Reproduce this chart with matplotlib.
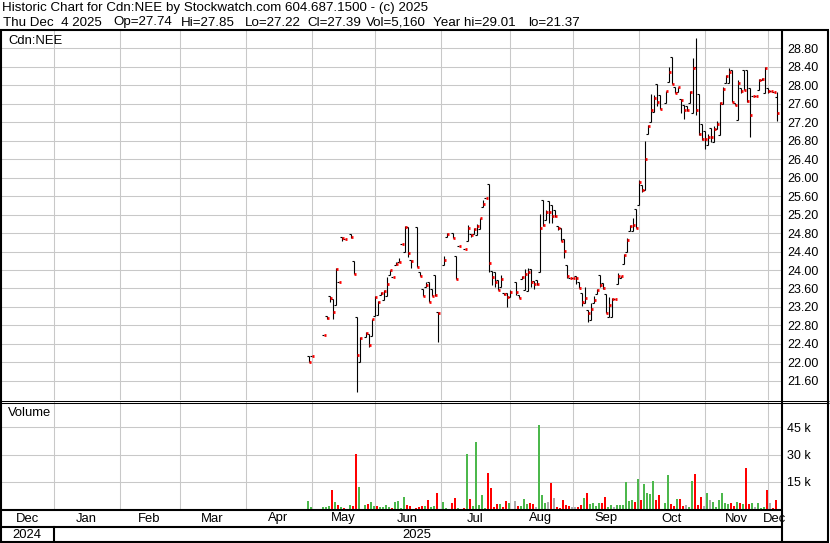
import numpy as np
import matplotlib
matplotlib.use('Agg')
from matplotlib import pyplot as plt
from matplotlib.transforms import blended_transform_factory

plt.rcParams['font.family'] = ['Liberation Sans', 'DejaVu Sans']

# daily bars for Cdn:NEE (2025)
days = ['04-30', '05-01', '05-07', '05-08', '05-09', '05-12', '05-13', '05-14', '05-15',
        '05-16', '05-20', '05-21', '05-22', '05-23', '05-27', '05-28', '05-29', '05-30',
        '06-02', '06-03', '06-04', '06-05', '06-06', '06-09', '06-10', '06-11', '06-12',
        '06-13', '06-16', '06-17', '06-19', '06-20', '06-23', '06-24', '06-25', '06-26',
        '06-27', '06-30',
        '07-02', '07-03', '07-07', '07-08', '07-09', '07-11', '07-14', '07-15', '07-16',
        '07-17', '07-18', '07-21', '07-22', '07-23', '07-24', '07-25', '07-28', '07-29',
        '07-30', '07-31',
        '08-01', '08-05', '08-06', '08-07', '08-08', '08-11', '08-12', '08-13', '08-14',
        '08-15', '08-18', '08-19', '08-20', '08-21', '08-22', '08-25', '08-26', '08-27',
        '08-28', '08-29',
        '09-01', '09-02', '09-03', '09-04', '09-05', '09-08', '09-09', '09-10', '09-11',
        '09-12', '09-15', '09-16', '09-17', '09-18', '09-19', '09-22', '09-23', '09-24',
        '09-25', '09-26', '09-29', '09-30',
        '10-01', '10-02', '10-03', '10-06', '10-07', '10-08', '10-09', '10-10', '10-14',
        '10-15', '10-16', '10-17', '10-20', '10-21', '10-22', '10-23', '10-24', '10-27',
        '10-28', '10-29', '10-30', '10-31',
        '11-03', '11-04', '11-05', '11-06', '11-07', '11-10', '11-11', '11-12', '11-13',
        '11-14', '11-17', '11-18', '11-19', '11-20', '11-21', '11-24', '11-25', '11-26',
        '11-27', '11-28',
        '12-01', '12-02', '12-03', '12-04']

opens = [22.14, 22.13, 22.60, 23.00, 23.44, 23.37, 23.24, 23.73, 24.71, 24.66, 24.77, 24.19,
         22.98, 22.00, 22.56, 22.62, 22.58, 23.01,
         23.03, 23.46, 23.35, 23.44, 23.89, 23.85, 24.11, 24.17, 24.56, 24.38, 24.92, 24.22,
         24.94, 23.96, 23.59, 23.64, 23.73, 23.59, 23.89, 23.09,
         24.11, 24.72, 24.80, 24.30, 24.51, 24.46, 24.63, 24.77, 24.77, 24.76, 24.89, 25.36,
         25.56, 25.86, 23.98, 23.96, 23.78, 23.64, 23.51, 23.50,
         23.42, 23.75, 23.46, 23.81, 23.57, 23.55, 24.02, 23.76, 23.78, 23.96, 25.51, 25.08,
         25.50, 25.41, 25.30, 24.95, 24.90, 24.66, 24.11, 23.83,
         23.83, 23.87, 23.75, 23.51, 23.28, 23.14, 22.92, 23.28, 23.48, 23.89, 23.71, 23.48,
         22.99, 22.99, 23.37, 23.70, 23.82, 24.14, 24.40, 24.85, 24.85, 25.32,
         25.40, 25.83, 25.73, 26.94, 27.21, 27.41, 28.02, 27.78, 27.61, 28.06, 28.61, 27.96,
         27.84, 27.69, 27.57, 27.55, 27.61, 27.39, 28.40, 27.80, 27.15, 27.01,
         26.70, 27.06, 26.76, 27.05, 26.92, 27.60, 28.04, 28.04, 28.32, 27.62, 27.24, 27.93,
         28.32, 28.32, 27.93, 27.76, 27.76, 27.89, 28.11, 27.82,
         27.93, 27.88, 27.85, 27.74]

highs = [22.14, 22.13, 22.60, 23.00, 23.44, 23.37, 24.04, 23.73, 24.71, 24.66, 24.77, 24.19,
         22.98, 22.55, 22.66, 22.62, 22.95, 23.44,
         23.33, 23.53, 23.57, 23.84, 24.00, 23.85, 24.17, 24.27, 24.56, 24.95, 24.92, 24.22,
         24.94, 23.96, 23.59, 23.74, 23.73, 23.59, 23.89, 23.09,
         24.30, 24.80, 24.80, 24.30, 24.51, 24.46, 24.97, 24.77, 24.90, 24.99, 25.13, 25.51,
         25.56, 25.86, 23.98, 23.96, 23.78, 23.89, 23.51, 23.50,
         23.57, 23.75, 23.46, 23.88, 24.02, 24.04, 24.02, 23.76, 23.78, 25.21, 25.51, 25.30,
         25.50, 25.41, 25.30, 24.95, 24.90, 24.66, 24.11, 23.83,
         23.83, 23.87, 23.75, 23.51, 23.64, 23.14, 23.28, 23.44, 23.58, 23.89, 23.71, 23.48,
         23.42, 23.39, 23.37, 23.93, 23.87, 24.34, 24.69, 24.97, 25.12, 25.32,
         25.94, 25.83, 26.79, 27.13, 27.80, 27.78, 28.02, 27.78, 27.86, 28.38, 28.61, 27.96,
         27.96, 27.69, 27.57, 27.55, 27.86, 28.59, 29.01, 27.80, 27.15, 27.01,
         26.93, 27.06, 27.11, 27.22, 27.63, 27.96, 28.22, 28.36, 28.32, 27.62, 28.11, 27.93,
         28.32, 28.32, 27.93, 27.76, 27.76, 28.14, 28.16, 28.40,
         27.93, 27.88, 27.85, 27.85]

lows = [22.00, 22.13, 22.60, 22.93, 23.31, 22.93, 23.24, 23.73, 24.63, 24.66, 24.70, 23.91,
        21.37, 22.00, 22.56, 22.34, 22.58, 23.01,
        23.03, 23.46, 23.35, 23.44, 23.89, 23.85, 24.11, 24.17, 24.56, 24.38, 24.29, 24.05,
        24.06, 23.88, 23.44, 23.64, 23.31, 23.44, 23.44, 22.45,
        24.11, 24.72, 24.69, 23.81, 24.51, 24.46, 24.63, 24.71, 24.77, 24.76, 24.89, 25.36,
        25.56, 23.96, 23.68, 23.64, 23.57, 23.64, 23.46, 23.21,
        23.42, 23.46, 23.39, 23.81, 23.57, 23.55, 23.63, 23.59, 23.67, 23.96, 24.95, 25.08,
        25.01, 25.02, 25.14, 24.86, 24.63, 24.25, 23.82, 23.83,
        23.83, 23.70, 23.60, 23.23, 23.28, 22.88, 22.92, 23.28, 23.48, 23.64, 23.58, 23.06,
        22.99, 22.99, 23.37, 23.70, 23.82, 24.14, 24.40, 24.85, 24.85, 24.91,
        25.40, 25.68, 25.73, 26.94, 27.21, 27.41, 27.55, 27.48, 27.61, 28.06, 28.02, 27.82,
        27.84, 27.39, 27.26, 27.44, 27.61, 27.39, 27.35, 26.92, 26.82, 26.62,
        26.70, 26.76, 26.76, 27.05, 26.92, 27.60, 28.04, 28.04, 27.64, 27.57, 27.24, 27.82,
        27.89, 27.64, 26.88, 27.76, 27.76, 27.89, 28.11, 27.82,
        27.82, 27.88, 27.85, 27.22]

closes = [22.02, 22.13, 22.60, 22.96, 23.40, 23.10, 24.03, 23.73, 24.69, 24.66, 24.72, 23.91,
          22.17, 22.54, 22.64, 22.38, 22.94, 23.42,
          23.31, 23.50, 23.55, 23.70, 23.99, 23.85, 24.13, 24.18, 24.56, 24.94, 24.37, 24.19,
          24.07, 23.88, 23.44, 23.68, 23.31, 23.44, 23.45, 23.08,
          24.22, 24.78, 24.70, 23.81, 24.51, 24.46, 24.90, 24.75, 24.88, 24.95, 25.13, 25.43,
          25.56, 24.16, 23.85, 23.73, 23.57, 23.81, 23.49, 23.42,
          23.53, 23.53, 23.40, 23.85, 23.92, 23.95, 23.73, 23.69, 23.69, 24.91, 24.98, 25.26,
          25.26, 25.17, 25.17, 24.91, 24.63, 24.42, 23.86, 23.83,
          23.83, 23.83, 23.62, 23.31, 23.40, 23.06, 23.16, 23.35, 23.57, 23.67, 23.60, 23.08,
          23.24, 23.37, 23.37, 23.86, 23.87, 24.32, 24.65, 24.95, 24.97, 24.91,
          25.91, 25.73, 26.40, 27.12, 27.47, 27.73, 27.64, 27.49, 27.86, 28.29, 28.02, 27.83,
          27.96, 27.68, 27.46, 27.46, 27.85, 28.37, 27.46, 26.95, 26.83, 26.83,
          26.88, 26.88, 27.05, 27.16, 27.62, 27.92, 28.20, 28.29, 27.64, 27.57, 28.05, 27.86,
          27.89, 27.66, 27.35, 27.76, 27.76, 28.11, 28.13, 28.37,
          27.88, 27.88, 27.85, 27.39]

volumes = [4400, 1100, 1100, 1100, 1700, 10600, 3900, 2200, 1100, 600, 2200, 1700,
           30600, 12200, 2200, 2800, 3900, 1700,
           1700, 1100, 1100, 2200, 1100, 600, 3900, 4400, 600, 6700, 2200, 1700,
           600, 1100, 1700, 1700, 5000, 1100, 1700, 8900,
           3900, 600, 3300, 6100, 600, 600, 30600, 5600, 1700, 37200, 2200, 7800,
           600, 20000, 11700, 1100, 2800, 2800, 1100, 4400,
           3300, 4400, 1700, 1700, 5600, 2800, 3300, 2800, 1100, 46100, 7800, 3300,
           3900, 14400, 6100, 1100, 600, 5000, 2200, 1700,
           1100, 1100, 1100, 2200, 6100, 8900, 2800, 3300, 1700, 3300, 3300, 6700,
           1100, 2200, 1100, 2200, 2200, 2200, 15000, 4400, 5000, 3900,
           16700, 5000, 13900, 8900, 8300, 15600, 5000, 7800, 3300, 18900, 2800, 1700,
           5600, 5600, 1700, 2200, 1100, 15600, 19400, 2200, 6700, 1700,
           8900, 5000, 3900, 1100, 5000, 8900, 3300, 2800, 3300, 1700, 3900, 3300,
           2800, 22800, 2800, 3300, 1100, 3300, 600, 1100,
           10600, 3300, 600, 5160]

month_names = ['Dec', 'Jan', 'Feb', 'Mar', 'Apr', 'May', 'Jun', 'Jul', 'Aug', 'Sep',
               'Oct', 'Nov', 'Dec']
price_ticks = [21.60, 22.00, 22.40, 22.80, 23.20, 23.60, 24.00, 24.40, 24.80, 25.20,
               25.60, 26.00, 26.40, 26.80, 27.20, 27.60, 28.00, 28.40, 28.80]
vol_ticks = [15000, 30000, 45000]

W, H = 830, 543
GRID = '#c8c8c8'


def px_box(x0, y0, x1, y1):
    return [x0 / W, 1 - y1 / H, (x1 - x0) / W, (y1 - y0) / H]


def main():
    start = np.datetime64('2024-12-04')
    dates = np.array(['2025-' + d for d in days], dtype='datetime64[D]')
    x = np.busday_count(start, dates).astype(float)
    o = np.array(opens)
    hi = np.array(highs)
    lo = np.array(lows)
    cl = np.array(closes)
    vol = np.array(volumes)

    # month boundaries on the weekday axis
    months = np.arange('2025-01', '2026-01', dtype='datetime64[M]').astype('datetime64[D]')
    mpos = np.busday_count(start, np.busday_offset(months, 0, roll='backward')).astype(float)
    x0, x1 = 2.5, 262.5

    fig = plt.figure(figsize=(W / 100, H / 100), dpi=100)
    ax_p = fig.add_axes(px_box(1, 31, 781, 400))
    ax_v = fig.add_axes(px_box(1, 402, 781, 509), sharex=ax_p)

    for ax in (ax_p, ax_v):
        ax.set_xlim(x0, x1)
        ax.set_xticks(mpos)
        ax.grid(True, color=GRID, lw=0.75)
        ax.set_axisbelow(True)
        ax.tick_params(axis='x', length=0, labelbottom=False)
        ax.yaxis.tick_right()
        ax.tick_params(axis='y', length=0, pad=4.5, labelsize=9)
        for s in ax.spines.values():
            s.set_visible(False)

    # price bars: high-low line, open tick left, close tick right
    ax_p.set_ylim(21.189, 29.168)
    ax_p.set_yticks(price_ticks)
    ax_p.set_yticklabels(['%.2f' % t for t in price_ticks])
    ax_p.vlines(x, lo, hi, color='black', lw=0.8, snap=True)
    ax_p.hlines(o, x - 0.4, x, color='black', lw=0.8, snap=True)
    ax_p.hlines(cl, x + 0.1, x + 0.95, color='#ff0000', lw=2.0, snap=True)

    # volume bars, coloured by change of close
    prev = np.concatenate([[cl[0] - 1], cl[:-1]])
    colors = np.where(cl > prev + 1e-9, '#4cb84c', np.where(cl < prev - 1e-9, '#ff0000', '#aaaaaa'))
    ax_v.set_ylim(0, 59000)
    ax_v.set_yticks(vol_ticks)
    ax_v.set_yticklabels(['%d k' % (t / 1000) for t in vol_ticks])
    ax_v.bar(x - 0.5, vol, width=2 / 3, align='edge', color=colors, lw=0)

    # header
    d = dates[-1].astype(object)
    line1 = 'Historic Chart for Cdn:NEE by Stockwatch.com 604.687.1500 - (c) 2025'
    fields = ['%s %2d %d' % (d.strftime('%a %b'), d.day, d.year),
              'Op=%.2f' % o[-1], 'Hi=%.2f' % hi[-1], 'Lo=%.2f' % lo[-1], 'Cl=%.2f' % cl[-1],
              'Vol=' + format(int(vol[-1]), ','), 'Year hi=%.2f' % hi.max(), 'lo=%.2f' % lo.min()]
    field_x = [3, 113, 181, 245, 307, 366, 433, 528]
    fig.text(2 / W, 1 - 8.5 / H, line1, fontsize=9.6, va='center')
    for fx, ft in zip(field_x, fields):
        fig.text(fx / W, 1 - 22.5 / H, ft, fontsize=9.6, va='center')
    fig.text(8 / W, 1 - 41 / H, 'Cdn:NEE', fontsize=9.4, va='center')
    fig.text(8 / W, 1 - 413 / H, 'Volume', fontsize=9.4, va='center')

    # month and year rows
    tr = blended_transform_factory(ax_v.transData, fig.transFigure)
    edges = np.concatenate([[x0], mpos, [x1]])
    for name, a, b in zip(month_names, edges[:-1], edges[1:]):
        ax_v.text((a + b) / 2, 1 - 518.5 / H, name, transform=tr, fontsize=9.4,
                  ha='center', va='center', clip_on=False)
    ax_v.text((x0 + mpos[0]) / 2, 1 - 534.5 / H, '2024', transform=tr, fontsize=9.4,
              ha='center', va='center', clip_on=False)
    ax_v.text((mpos[0] + x1) / 2, 1 - 534.5 / H, '2025', transform=tr, fontsize=9.4,
              ha='center', va='center', clip_on=False)
    ax_v.plot([mpos[0], mpos[0]], [1 - 527 / H, 1 - 541 / H], transform=tr, color='black',
              lw=1.5, clip_on=False)

    # frame lines (pixel coordinates)
    ov = fig.add_axes([0, 0, 1, 1], zorder=10)
    ov.set_xlim(0, W)
    ov.set_ylim(H, 0)
    ov.axis('off')
    k = dict(color='black', solid_capstyle='butt')
    ov.plot([0, 829], [30, 30], lw=1.5, **k)
    ov.plot([1, 1], [30, 542], lw=1.5, **k)
    ov.plot([782, 782], [30, 542], lw=1.5, **k)
    ov.plot([828, 828], [30, 542], lw=1.5, **k)
    ov.plot([0, 829], [400.5, 400.5], lw=0.75, **k)
    ov.plot([0, 829], [402.5, 402.5], lw=0.75, **k)
    ov.plot([0, 782], [510, 510], lw=1.5, **k)
    ov.plot([0, 782], [526.5, 526.5], lw=1.5, **k)
    ov.plot([0, 829], [541.5, 541.5], lw=1.5, **k)

    plt.savefig('out.png', dpi=100)


if __name__ == '__main__':
    main()
